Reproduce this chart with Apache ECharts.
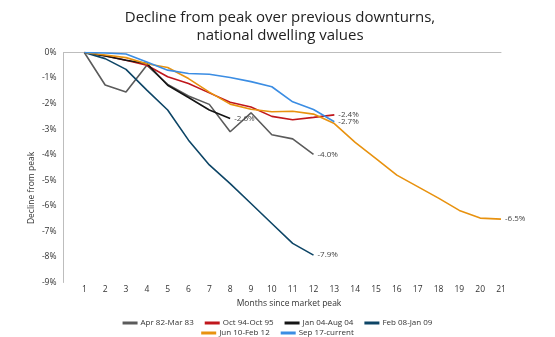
<!DOCTYPE html>
<html>
<head>
<meta charset="utf-8">
<script src="https://cdn.jsdelivr.net/npm/echarts@6/dist/echarts.min.js"></script>
<style>html,body{margin:0;padding:0;background:#fff}#c{width:555px;height:337px}</style>
</head>
<body>
<div id="c"></div>
<script>
var FONT = '"Open Sans", sans-serif';
var months = [1,2,3,4,5,6,7,8,9,10,11,12,13,14,15,16,17,18,19,20,21];
var xTickLabels = ['1','2','3','4','5','6','7','8','9','10','11','12','13','14','15','16','17','18','19','20','21'];
var yTickLabels = ['-9%','-8%','-7%','-6%','-5%','-4%','-3%','-2%','-1%','0%'];
var seriesNames = ['Apr 82-Mar 83','Oct 94-Oct 95','Jan 04-Aug 04','Feb 08-Jan 09','Jun 10-Feb 12','Sep 17-current'];
var apr82 = [0,-1.27,-1.55,-0.5,-1.25,-1.7,-2.03,-3.1,-2.36,-3.22,-3.38,-3.99];
var oct94 = [0,-0.13,-0.3,-0.5,-0.95,-1.21,-1.58,-1.95,-2.13,-2.5,-2.63,-2.54,-2.44];
var jan04 = [0,-0.14,-0.3,-0.43,-1.28,-1.76,-2.25,-2.58];
var feb08 = [0,-0.24,-0.66,-1.47,-2.25,-3.43,-4.4,-5.13,-5.91,-6.69,-7.47,-7.93];
var jun10 = [0,-0.1,-0.2,-0.44,-0.59,-1.02,-1.55,-2.02,-2.22,-2.32,-2.3,-2.41,-2.78,-3.52,-4.15,-4.8,-5.25,-5.7,-6.18,-6.48,-6.52];
var sep17 = [0,-0.02,-0.06,-0.37,-0.69,-0.82,-0.85,-0.98,-1.14,-1.34,-1.93,-2.23,-2.71];
var colors = ['#5b5b5b','#c0171c','#151515','#0d4566','#e8920f','#3b8de3'];
var allValues = [apr82, oct94, jan04, feb08, jun10, sep17];

function buildSeries(i){
  var vals = allValues[i];
  var data = vals.map(function(v, k){ return [months[k], v]; });
  return {
    name: seriesNames[i], type: 'line', data: data, symbol: 'none',
    lineStyle: {color: colors[i], width: 1.6}, itemStyle: {color: colors[i]},
    endLabel: {show: true, distance: 4,
      formatter: function(p){ return p.value[1].toFixed(1) + '%'; },
      fontFamily: FONT, fontSize: 8, color: '#444'},
    emphasis: {disabled: true}, z: 2 + i
  };
}
var order = [0,1,2,4,5,3];
var series = order.map(buildSeries);

var chart = echarts.init(document.getElementById('c'), null, {renderer: 'canvas'});
chart.setOption({
  animation: false,
  backgroundColor: '#fff',
  color: colors,
  textStyle: {fontFamily: FONT},
  title: {
    text: 'Decline from peak over previous downturns,\nnational dwelling values',
    left: 275, top: 4, textAlign: 'center',
    textStyle: {fontFamily: FONT, fontSize: 15, fontWeight: 'normal', color: '#222', lineHeight: 18}
  },
  grid: {left: 63.5, right: 54, top: 52.5, bottom: 54.5, containLabel: false},
  legend: [
    {data: seriesNames.slice(0,4), left: 'center', top: 314, icon: 'rect', itemWidth: 15, itemHeight: 3, itemGap: 11,
     textStyle: {fontFamily: FONT, fontSize: 8, color: '#333', padding: [0,0,0,-2]}, selectedMode: false},
    {data: seriesNames.slice(4), left: 'center', top: 324, icon: 'rect', itemWidth: 15, itemHeight: 3, itemGap: 11,
     textStyle: {fontFamily: FONT, fontSize: 8, color: '#333', padding: [0,0,0,-2]}, selectedMode: false}
  ],
  xAxis: [
    {type: 'value', min: 0, max: 21, interval: 1, position: 'bottom',
     axisLine: {show: false}, axisTick: {show: false}, splitLine: {show: false},
     axisLabel: {margin: 3, fontFamily: FONT, fontSize: 8.5, color: '#333',
       formatter: function(v){ return v >= 1 ? xTickLabels[v - 1] : ''; }}},
    {type: 'value', min: 0, max: 21, position: 'top',
     axisLine: {show: true, onZero: false, lineStyle: {color: '#bdbdbd', width: 1}},
     axisTick: {show: false}, axisLabel: {show: false}, splitLine: {show: false}}
  ],
  yAxis: {
    type: 'value', min: -9, max: 0, interval: 1,
    axisLine: {show: true, lineStyle: {color: '#bdbdbd', width: 1}},
    axisTick: {show: false}, splitLine: {show: false},
    axisLabel: {margin: 7, fontFamily: FONT, fontSize: 8.5, color: '#333', padding: [4,0,0,0],
      formatter: function(v){ return yTickLabels[Math.round(v) + 9]; }}
  },
  graphic: [
    {type: 'text', x: 31.5, y: 188, rotation: Math.PI / 2,
     style: {text: 'Decline from peak', fontFamily: FONT, fontSize: 8.5, fill: '#333', textAlign: 'center', textVerticalAlign: 'middle'}},
    {type: 'text', x: 289, y: 304,
     style: {text: 'Months since market peak', fontFamily: FONT, fontSize: 8.5, fill: '#333', textAlign: 'center', textVerticalAlign: 'middle'}}
  ],
  series: series
});
</script>
</body>
</html>
